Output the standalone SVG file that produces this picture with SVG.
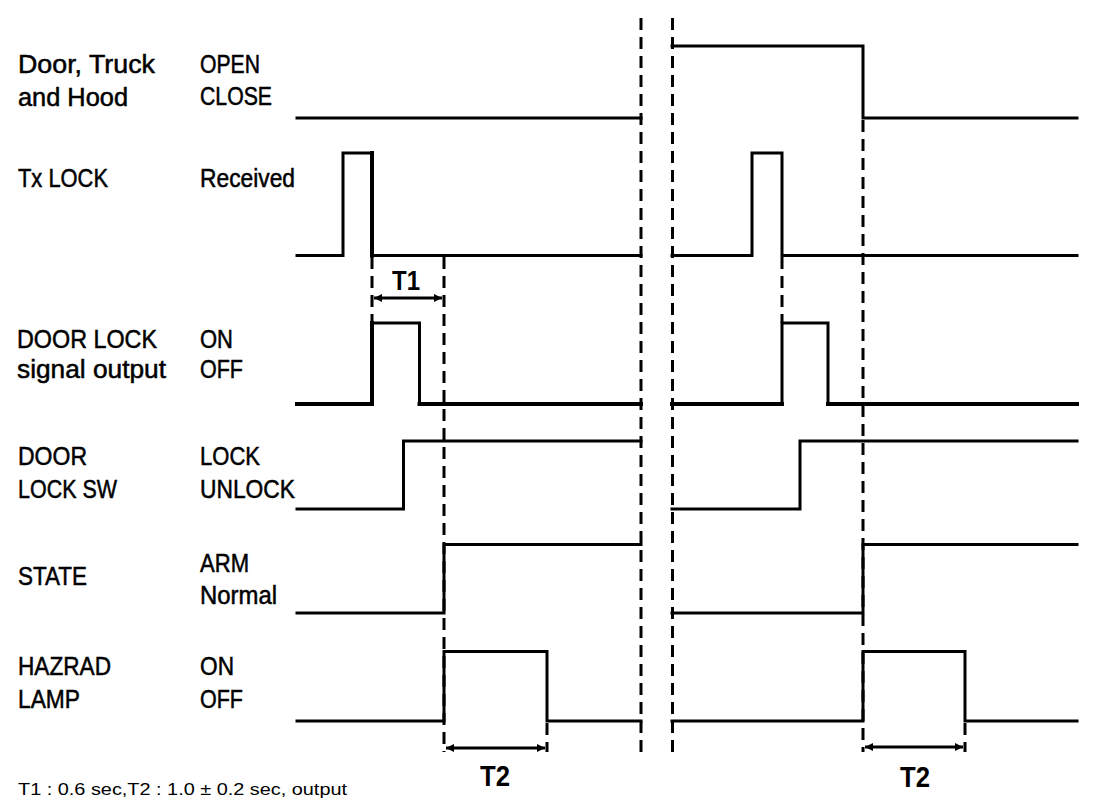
<svg xmlns="http://www.w3.org/2000/svg" width="1120" height="812" viewBox="0 0 1120 812">
<defs>
<style>
.lbl{font-family:"Liberation Sans",Arial,sans-serif;font-size:25px;fill:#000;stroke:#000;stroke-width:0.5}
.tt{font-family:"Liberation Sans",Arial,sans-serif;font-size:28px;font-weight:bold;fill:#000}
.note{font-family:"Liberation Sans",Arial,sans-serif;font-size:16px;fill:#000}
.sig{fill:none;stroke:#000;stroke-width:3;stroke-linejoin:miter;stroke-linecap:square}
.thick{stroke-width:4}
.dash{fill:none;stroke:#000;stroke-width:3;stroke-dasharray:12 7}
.arr{fill:none;stroke:#000;stroke-width:3}
</style>
<marker id="ah" viewBox="0 0 10 10" refX="10" refY="5" markerWidth="10" markerHeight="8" markerUnits="userSpaceOnUse" orient="auto-start-reverse">
<path d="M0,0 L10,5 L0,10 z" fill="#000"/>
</marker>
</defs>
<rect width="1120" height="812" fill="#fff"/>

<g id="labels">
<g id="row-door">
<text class="lbl" x="18" y="73" textLength="137" lengthAdjust="spacingAndGlyphs">Door, Truck</text>
<text class="lbl" x="18" y="106" textLength="110" lengthAdjust="spacingAndGlyphs">and Hood</text>
<text class="lbl" x="200" y="73" textLength="60" lengthAdjust="spacingAndGlyphs">OPEN</text>
<text class="lbl" x="200" y="105" textLength="72" lengthAdjust="spacingAndGlyphs">CLOSE</text>
</g>
<g id="row-tx">
<text class="lbl" x="18" y="187" textLength="90" lengthAdjust="spacingAndGlyphs">Tx LOCK</text>
<text class="lbl" x="200" y="187" textLength="95" lengthAdjust="spacingAndGlyphs">Received</text>
</g>
<g id="row-dlo">
<text class="lbl" x="17" y="348" textLength="140" lengthAdjust="spacingAndGlyphs">DOOR LOCK</text>
<text class="lbl" x="17" y="378" textLength="149" lengthAdjust="spacingAndGlyphs">signal output</text>
<text class="lbl" x="200" y="348" textLength="33" lengthAdjust="spacingAndGlyphs">ON</text>
<text class="lbl" x="200" y="378" textLength="43" lengthAdjust="spacingAndGlyphs">OFF</text>
</g>
<g id="row-dlsw">
<text class="lbl" x="18" y="465" textLength="69" lengthAdjust="spacingAndGlyphs">DOOR</text>
<text class="lbl" x="18" y="498" textLength="99" lengthAdjust="spacingAndGlyphs">LOCK SW</text>
<text class="lbl" x="200" y="465" textLength="60" lengthAdjust="spacingAndGlyphs">LOCK</text>
<text class="lbl" x="200" y="498" textLength="95" lengthAdjust="spacingAndGlyphs">UNLOCK</text>
</g>
<g id="row-state">
<text class="lbl" x="18" y="585" textLength="69" lengthAdjust="spacingAndGlyphs">STATE</text>
<text class="lbl" x="200" y="572" textLength="49" lengthAdjust="spacingAndGlyphs">ARM</text>
<text class="lbl" x="200" y="604" textLength="77" lengthAdjust="spacingAndGlyphs">Normal</text>
</g>
<g id="row-hazard">
<text class="lbl" x="18" y="675" textLength="93" lengthAdjust="spacingAndGlyphs">HAZRAD</text>
<text class="lbl" x="18" y="708" textLength="62" lengthAdjust="spacingAndGlyphs">LAMP</text>
<text class="lbl" x="200" y="675" textLength="34" lengthAdjust="spacingAndGlyphs">ON</text>
<text class="lbl" x="200" y="708" textLength="43" lengthAdjust="spacingAndGlyphs">OFF</text>
</g>
</g>

<g id="signals">
<path class="sig" d="M297,118 H641"/>
<path class="sig" d="M672,46 H863 V118 H1077"/>
<path class="sig" d="M297,255.5 H343 V153 H372"/>
<path class="sig thick" d="M372,153 V255.5"/>
<path class="sig" d="M372,255.5 H641"/>
<path class="sig" d="M672,255.5 H752 V153 H782 V255.5 H1077"/>
<path class="sig thick" d="M297,404 H372 V323"/>
<path class="sig" d="M372,323 H419.5 V404"/>
<path class="sig thick" d="M419.5,404 H641"/>
<path class="sig thick" d="M672,404 H782"/>
<path class="sig" d="M782,404 V323 H828 V404"/>
<path class="sig thick" d="M828,404 H1077"/>
<path class="sig" d="M297,509 H403.5 V441 H641"/>
<path class="sig" d="M672,509 H800 V441 H1077"/>
<path class="sig" d="M297,613 H444 V544.5 H641"/>
<path class="sig" d="M672,613 H863 V544.5 H1077"/>
<path class="sig" d="M297,721 H444 V651.5 H547 V721 H641"/>
<path class="sig" d="M672,721 H863 V651.5 H965 V721 H1077"/>
</g>

<g id="connectors">
<path class="dash" d="M641,18 V752"/>
<path class="dash" d="M672.5,18 V752"/>
<path class="dash" d="M372,257 V323"/>
<path class="dash" d="M444,257 V752"/>
<path class="dash" d="M782,257 V323"/>
<path class="dash" d="M863,120 V752"/>
<path class="dash" d="M547,723 V752"/>
<path class="dash" d="M965,723 V752"/>
<line class="arr" x1="374" y1="298" x2="442" y2="298" marker-start="url(#ah)" marker-end="url(#ah)"/>
<line class="arr" x1="446" y1="748" x2="545" y2="748" marker-start="url(#ah)" marker-end="url(#ah)"/>
<line class="arr" x1="865" y1="747" x2="963" y2="747" marker-start="url(#ah)" marker-end="url(#ah)"/>
</g>

<g id="times">
<text class="tt" x="392" y="290" textLength="28" lengthAdjust="spacingAndGlyphs">T1</text>
<text class="tt" x="480" y="786" textLength="30" lengthAdjust="spacingAndGlyphs" style="font-size:30px">T2</text>
<text class="tt" x="900" y="787" textLength="30" lengthAdjust="spacingAndGlyphs" style="font-size:30px">T2</text>
<text class="note" x="18" y="795" textLength="329" lengthAdjust="spacingAndGlyphs">T1 : 0.6 sec,T2 : 1.0 ± 0.2 sec, output</text>
</g>
</svg>
